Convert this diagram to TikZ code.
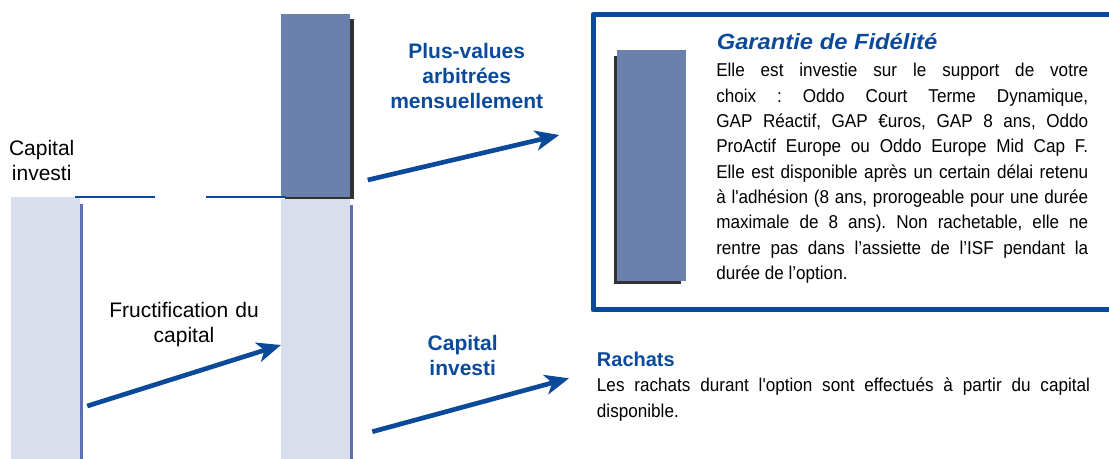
\documentclass[tikz,border=0pt]{standalone}
\usepackage{fontspec}
\setmainfont{Liberation Sans}
\newfontfamily\corpsfont[FakeStretch=0.92,Ligatures=TeXOff]{Liberation Sans}
\newfontfamily\titrefont[FakeStretch=1.08]{Liberation Sans}
\usetikzlibrary{arrows.meta}
\definecolor{bleuoddo}{RGB}{11,74,154}
\definecolor{barreclaire}{RGB}{216,222,236}
\definecolor{barrefoncee}{RGB}{106,129,174}
\definecolor{bordbarre}{RGB}{95,111,179}
\definecolor{ombre}{RGB}{50,50,50}
\tolerance=10000 \hbadness=10000 \hyphenpenalty=10000
\frenchspacing
\tikzset{
	fleche/.style={draw=bleuoddo, line width=3.5pt, -{Stealth[length=18pt,width=15pt,inset=5pt]}},
	legende/.style={anchor=base, inner sep=0pt, text width=130pt, align=center, font=\fontsize{15.75}{18.75}\selectfont},
	legendebleue/.style={legende, text=bleuoddo, font=\fontsize{15.75}{18.75}\selectfont\bfseries},
	corps/.style={anchor=base west, inner sep=0pt, align=justify, font=\corpsfont\fontsize{13.95}{19}\selectfont}
}
\begin{document}
\begin{tikzpicture}[x=0.75pt, y=-0.75pt, line join=round]
		\def\yb{197} \def\ybas{459}  % niveau du capital, pied des barres
		\useasboundingbox (0,0) rectangle (1109,459);
		\fill[bordbarre] (14,204) rectangle (83,\ybas);
		\fill[barreclaire] (11,\yb) rectangle (80,\ybas);
		\fill[bordbarre] (284,205) rectangle (353,\ybas);
		\fill[barreclaire] (281,199) rectangle (350,\ybas);
		\fill[ombre] (285,19) rectangle (354,199);
		\fill[barrefoncee] (281,14) rectangle (350,197.5);
		\draw[bleuoddo, line width=2pt] (75,\yb)--(155,\yb) (206,\yb)--(286,\yb);
		\draw[bleuoddo, line width=3.75pt] (593,14.7) rectangle (1116,310);
		\fill[ombre] (614,56) rectangle (680.7,284);
		\fill[barrefoncee] (616.7,50) rectangle (686,280.7);
		\node[legende] (capinit) at (41.7,156) {Capital\\investi};
		\node[legende] (fructif) at (184,317.7) {Fructification du\\capital};
		\node[legendebleue] (plusval) at (466.7,58.3) {Plus-values\\arbitrées\\mensuellement};
		\node[legendebleue] (capinv) at (462.7,350) {Capital\\investi};
		\node[anchor=base west, inner sep=0pt, text=bleuoddo, font=\titrefont\fontsize{16.5}{20}\selectfont\bfseries\itshape] (titre) at (716.5,50) {Garantie de Fidélité};
		\node[corps, text width=279pt] (garantie) at (716,76.7) {Elle est investie sur le support de votre\linebreak
			choix : Oddo Court Terme Dynamique,\linebreak
			GAP Réactif, GAP €uros, GAP 8 ans, Oddo\linebreak
			ProActif Europe ou Oddo Europe Mid Cap F.\linebreak
			Elle est disponible après un certain délai retenu\linebreak
			à l'adhésion (8 ans, prorogeable pour une durée\linebreak
			maximale de 8 ans). Non rachetable, elle ne\linebreak
			rentre pas dans l’assiette de l’ISF pendant la\linebreak
			durée de l’option.};
		\node[anchor=base west, inner sep=0pt, text=bleuoddo, font=\fontsize{15}{18}\selectfont\bfseries] (rachats) at (596.7,366.7) {Rachats};
		\node[corps, text width=369.75pt] (rachtxt) at (596.7,391.7) {Les rachats durant l'option sont effectués à partir du capital\linebreak
			disponible.};
		\coordinate (fructA) at (87.3,406); \coordinate (fructB) at (281,345);
		\coordinate (pvA) at (367.7,180); \coordinate (pvB) at (559.3,135);
		\coordinate (capA) at (372.3,431.7); \coordinate (capB) at (569,378.3);
		\draw[fleche] (fructA)--(fructB);
		\draw[fleche] (pvA)--(pvB);
		\draw[fleche] (capA)--(capB);
		\end{tikzpicture}
\end{document}
